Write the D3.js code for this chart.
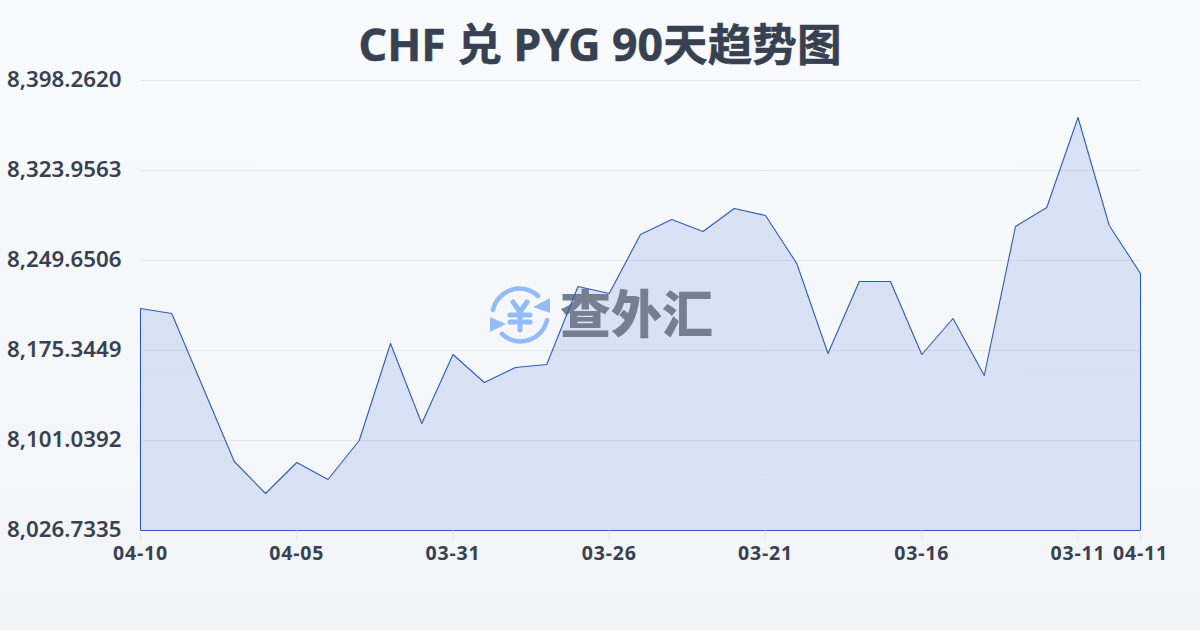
<!DOCTYPE html>
<html><head><meta charset="utf-8">
<script src="https://cdnjs.cloudflare.com/ajax/libs/d3/7.8.5/d3.min.js"></script>
<style>html,body{margin:0;padding:0;background:#f8fafc}svg{display:block}</style>
</head><body><div id="c"></div>
<script>
const title = "CHF 兑 PYG 90天趋势图";
const dates = ["04-10","04-09","04-08","04-07","04-06","04-05","04-04","04-03","04-02","04-01","03-31","03-30","03-29","03-28","03-27","03-26","03-25","03-24","03-23","03-22","03-21","03-20","03-19","03-18","03-17","03-16","03-15","03-14","03-13","03-12","03-11","03-10","04-11"];
const rates = [8210.02,8205.89,8144.79,8083.70,8057.28,8082.87,8068.84,8101.04,8181.12,8115.07,8172.04,8148.92,8161.31,8163.78,8228.18,8222.40,8271.11,8283.50,8273.59,8292.58,8286.80,8247.17,8172.87,8232.31,8232.31,8172.04,8201.76,8154.70,8277.72,8293.41,8367.71,8278.55,8238.92];
const yTicks = [8026.7335,8101.0392,8175.3449,8249.6506,8323.9563,8398.2620];
const xTickLabels = ["04-10","04-05","03-31","03-26","03-21","03-16","03-11","04-11"];
const watermark = "查外汇";

const W=1200,H=630,m={l:140.5,r:1140.5,t:80.5,b:530.5};
const svg=d3.select("#c").append("svg").attr("width",W).attr("height",H);
const defs=svg.append("defs");
const bg=defs.append("linearGradient").attr("id","bg").attr("x1",0).attr("y1",0).attr("x2",0).attr("y2",1);
bg.append("stop").attr("offset",0).attr("stop-color","#f8fafc");
bg.append("stop").attr("offset",1).attr("stop-color","#f2f4f7");
const ag=defs.append("linearGradient").attr("id","ag").attr("x1",0).attr("y1",0).attr("x2",0).attr("y2",1);
ag.append("stop").attr("offset",0).attr("stop-color","#2a5fd8").attr("stop-opacity",.15);
ag.append("stop").attr("offset",1).attr("stop-color","#2a5fd8").attr("stop-opacity",.13);
svg.append("rect").attr("width",W).attr("height",H).attr("fill","url(#bg)");

const x=d3.scalePoint().domain(d3.range(dates.length)).range([m.l,m.r]);
const y=d3.scaleLinear().domain([yTicks[0],yTicks[yTicks.length-1]]).range([m.b,m.t]);
const font='"Noto Sans","Noto Sans CJK SC",sans-serif';

svg.append("text").attr("x",600).attr("y",61).attr("text-anchor","middle")
  .attr("font-family",font).attr("font-weight",700).attr("font-size",44.6).attr("fill","#374151")
  .attr("stroke","#374151").attr("stroke-width",.5).text(title);

const yAxis=d3.axisLeft(y).tickValues(yTicks).tickSize(0).tickPadding(19).tickFormat(d3.format(",.4f"));
const gy=svg.append("g").attr("transform",`translate(${m.l},0)`).call(yAxis);
gy.select(".domain").remove();
gy.selectAll("text").attr("font-family",font).attr("font-weight",600).attr("font-size",22.3).attr("fill","#374151").attr("dy","0.25em");
svg.append("g").selectAll("line").data(yTicks).join("line")
  .attr("x1",m.l).attr("x2",m.r).attr("y1",d=>y(d)).attr("y2",d=>y(d))
  .attr("stroke","#e5e7eb").attr("stroke-width",1);

const area=d3.area().x((d,i)=>x(i)).y0(m.b).y1(d=>y(d));
svg.append("path").datum(rates).attr("d",area).attr("fill","url(#ag)");

const wm=svg.append("g");
const ic=wm.append("g").attr("transform","translate(520,315)").attr("fill","none").attr("stroke","#93bbf8").attr("stroke-linecap","round");
ic.append("path").attr("stroke-width",4.5).attr("d","M-27,-5 A27,27 0 0 1 18,-19");
ic.append("path").attr("stroke-width",4.5).attr("d","M27,5 A27,27 0 0 1 -18,19");
ic.append("path").attr("fill","#93bbf8").attr("stroke","none").attr("d","M30,-17 L30,-2 L13,-8 Z");
ic.append("path").attr("fill","#93bbf8").attr("stroke","none").attr("d","M-30,2 L-30,17 L-14,9 Z");
ic.append("path").attr("stroke-width",5).attr("d","M-7,-13 L0,-3 L7,-13 M0,-3 L0,15 M-10,0 L10,0 M-10,7 L10,7");
wm.append("text").attr("x",560).attr("y",333).attr("font-family",'"Noto Sans CJK SC"').attr("font-weight",900).attr("font-size",51).attr("fill","#767f91").text(watermark);

svg.append("path").datum(rates).attr("d",area).attr("fill","none").attr("stroke","#2b5cc2").attr("stroke-width",1.1).attr("stroke-linejoin","round");

const tickIdx=[0,5,10,15,20,25,30,32];
const gx=svg.append("g");
gx.selectAll("line").data(tickIdx).join("line").attr("x1",i=>x(i)).attr("x2",i=>x(i)).attr("y1",m.b).attr("y2",m.b+10).attr("stroke","#e5e7eb");
gx.selectAll("text").data(tickIdx).join("text").attr("x",i=>x(i)).attr("y",m.b+29.5).attr("text-anchor","middle")
  .attr("font-family",font).attr("font-weight",700).attr("font-size",19.5).attr("letter-spacing",.8).attr("fill","#374151").text((i,k)=>xTickLabels[k]);
</script></body></html>
